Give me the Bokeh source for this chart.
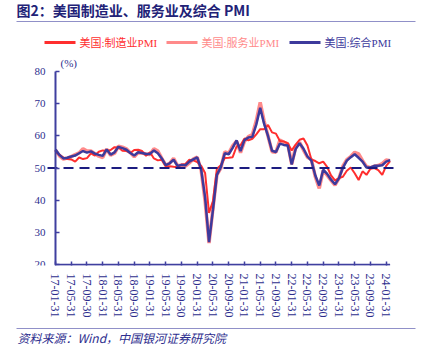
import pandas as pd
from bokeh.plotting import figure
from bokeh.models import Range1d, FixedTicker, Label
from bokeh.layouts import column
from bokeh.core.properties import value
from bokeh.embed import file_html
from bokeh.resources import INLINE

# ---------------- data ----------------
dates = pd.date_range("2017-01-31", periods=86, freq=pd.offsets.MonthEnd())

manufacturing = [
    55.0, 54.2, 53.3, 52.8, 52.7, 52.0, 53.3, 52.8, 53.1, 54.6, 53.9, 55.1,
    55.5, 55.3, 55.6, 56.5, 56.4, 55.4, 55.3, 54.7, 55.6, 55.7, 55.3, 53.8,
    54.9, 53.0, 52.4, 52.6, 50.5, 50.6, 50.4, 50.3, 51.1, 51.3, 52.6, 52.4,
    51.9, 50.7, 48.5, 36.1, 39.8, 49.8, 50.9, 53.1, 53.2, 53.4, 56.7, 57.1,
    59.2, 58.6, 59.1, 60.5, 62.1, 62.1, 63.4, 61.1, 60.7, 58.4, 58.3, 57.7,
    55.5, 57.3, 58.8, 59.2, 57.0, 52.7, 52.2, 51.5, 52.0, 50.4, 47.7, 46.2,
    46.9, 47.3, 49.2, 50.2, 48.4, 46.3, 49.0, 47.9, 49.8, 50.0, 49.4, 47.9,
    50.7, 52.2,
]
services = [
    55.6, 53.8, 52.8, 53.1, 53.6, 54.2, 54.7, 56.0, 55.3, 55.3, 54.5, 53.7,
    53.3, 55.9, 54.0, 54.6, 56.8, 56.5, 56.0, 54.8, 53.5, 54.8, 54.7, 54.4,
    54.2, 56.0, 55.3, 53.0, 50.9, 51.5, 53.0, 50.7, 50.9, 50.6, 51.6, 52.8,
    53.4, 49.4, 39.8, 26.7, 37.5, 47.9, 50.0, 55.0, 54.6, 56.9, 58.4, 54.8,
    58.3, 59.8, 60.4, 64.7, 70.4, 64.6, 59.9, 55.1, 54.9, 58.7, 58.0, 57.6,
    51.2, 56.5, 58.0, 55.6, 53.4, 52.7, 47.3, 43.7, 49.3, 47.8, 46.2, 44.7,
    46.8, 50.6, 52.6, 53.6, 54.9, 54.4, 52.3, 50.5, 50.1, 50.6, 50.8, 51.4,
    52.5, 52.3,
]
composite = [
    55.8, 54.1, 53.0, 53.2, 53.6, 53.9, 54.6, 55.3, 54.8, 55.2, 54.5, 54.1,
    53.8, 55.8, 54.2, 54.9, 56.6, 56.2, 55.7, 54.7, 53.9, 54.9, 54.7, 54.4,
    54.4, 55.5, 54.6, 53.0, 50.9, 51.5, 52.6, 50.7, 51.0, 50.9, 52.0, 52.7,
    53.3, 49.6, 40.9, 27.0, 37.0, 47.9, 50.3, 54.6, 54.3, 56.3, 58.6, 55.3,
    58.7, 59.5, 59.7, 63.5, 68.7, 63.7, 59.9, 55.4, 55.0, 57.6, 57.2, 57.0,
    51.1, 55.9, 57.7, 56.0, 53.6, 52.3, 47.7, 44.6, 49.5, 48.2, 46.4, 45.0,
    46.8, 50.1, 52.3, 53.4, 54.3, 53.2, 52.0, 50.2, 50.2, 50.7, 50.7, 50.9,
    52.0, 52.5,
]
threshold = 50
y_ticks = [20, 30, 40, 50, 60, 70, 80]
series_names = ["美国:制造业PMI", "美国:服务业PMI", "美国:综合PMI"]
title_text = "图2：美国制造业、服务业及综合 PMI"
source_text = "资料来源：Wind，中国银河证券研究院"

x_idx = list(range(len(dates)))
tick_idx = list(range(0, len(dates), 4))
tick_labels = {i: dates[i].strftime("%y-%m-%d") for i in tick_idx}

# ---------------- styles ----------------
RED = "#ff2e2e"
LIGHT = "#ff8a8a"
NAVY = "#3d3a9c"
DASH = "#1c1c80"
AXIS = "#3f3f9f"
TEXT = "#2e2e8e"
TITLE = "#222277"
RULE = "#9090c8"
SERIF = "Liberation Serif, Noto Sans CJK SC"
W = 425

# ---------------- header ----------------
hdr = figure(width=W, height=55, x_range=Range1d(0, W), y_range=Range1d(55, 0),
             toolbar_location=None, output_backend="svg", min_border=0,
             x_axis_type=None, y_axis_type=None, outline_line_color=None)
hdr.grid.visible = False
hdr.text(x=[16], y=[9], text=[title_text], text_font=value("Noto Sans CJK SC"),
         text_font_size="14px", text_font_style="bold", text_color=TITLE,
         text_baseline="middle", text_align="left")
hdr.segment(x0=[16], x1=[415], y0=[21], y1=[21], line_color=RULE, line_width=1)
leg_colors = [RED, LIGHT, NAVY]
leg_x0 = [44, 166, 289]
hdr.segment(x0=leg_x0, x1=[x + 31 for x in leg_x0], y0=[42] * 3, y1=[42] * 3,
            line_color=leg_colors, line_width=3)
hdr.text(x=[x + 35 for x in leg_x0], y=[42] * 3, text=series_names,
         text_font=value(SERIF), text_font_size="11px", text_color=leg_colors,
         text_baseline="middle", text_align="left")

# ---------------- main chart ----------------
p = figure(width=W, height=265, x_range=Range1d(-13.97, 93.99), y_range=Range1d(19.75, 84.97),
           y_axis_location="right",
           toolbar_location=None, output_backend="svg",
           min_border_left=0, min_border_right=0, min_border_top=0, min_border_bottom=55,
           outline_line_color=None)
p.grid.visible = False

p.line(x_idx, services, line_color=LIGHT, line_width=3.5)
p.line(x_idx, manufacturing, line_color=RED, line_width=2)
p.line(x_idx, composite, line_color=NAVY, line_width=2.5)

# 50 line
p.segment(x0=[-2.03], x1=[86.88], y0=[threshold], y1=[threshold], line_color=DASH,
          line_width=2, line_dash="10 6")

# axis lines
p.segment(x0=[0], x1=[0], y0=[y_ticks[0]], y1=[y_ticks[-1]], line_color=AXIS, line_width=2)
p.segment(x0=[0], x1=[x_idx[-1]], y0=[y_ticks[0]], y1=[y_ticks[0]], line_color=AXIS, line_width=2)

xa = p.xaxis[0]
xa.ticker = FixedTicker(ticks=tick_idx)
xa.major_label_overrides = tick_labels
xa.major_label_orientation = "vertical"
xa.axis_line_color = None
xa.major_tick_in = 4
xa.major_tick_out = 0
xa.minor_tick_line_color = None
xa.major_tick_line_color = AXIS
xa.major_tick_line_width = 1.5
xa.major_label_standoff = 8
xa.major_label_text_font = SERIF
xa.major_label_text_font_size = "12px"
xa.major_label_text_color = TEXT

# y axis sits at the first month; its labels are pulled back to the left of the line
ya = p.yaxis[0]
ya.fixed_location = 0
ya.ticker = FixedTicker(ticks=y_ticks)
ya.axis_line_color = None
ya.major_tick_in = 0
ya.major_tick_out = 4
ya.minor_tick_line_color = None
ya.major_tick_line_color = AXIS
ya.major_tick_line_width = 1.5
ya.major_label_standoff = -25
ya.major_label_text_font = SERIF
ya.major_label_text_font_size = "11px"
ya.major_label_text_color = TEXT

p.add_layout(Label(x=0, y=y_ticks[-1], x_offset=5, y_offset=9, text="(%)",
                   text_font=SERIF, text_font_size="11px", text_color=TEXT,
                   text_baseline="middle", text_align="left"))

# ---------------- footer ----------------
ftr = figure(width=W, height=42, x_range=Range1d(0, W), y_range=Range1d(42, 0),
             toolbar_location=None, output_backend="svg", min_border=0,
             x_axis_type=None, y_axis_type=None, outline_line_color=None)
ftr.grid.visible = False
ftr.segment(x0=[16], x1=[415], y0=[8], y1=[8], line_color=RULE, line_width=1)
ftr.text(x=[17], y=[17], text=[source_text], text_font=value("Noto Sans CJK SC"),
         text_font_size="12px", text_font_style="italic", text_color=TEXT,
         text_baseline="middle", text_align="left")

layout = column(hdr, p, ftr, spacing=0)
open("out.html", "w").write(file_html(layout, INLINE))
